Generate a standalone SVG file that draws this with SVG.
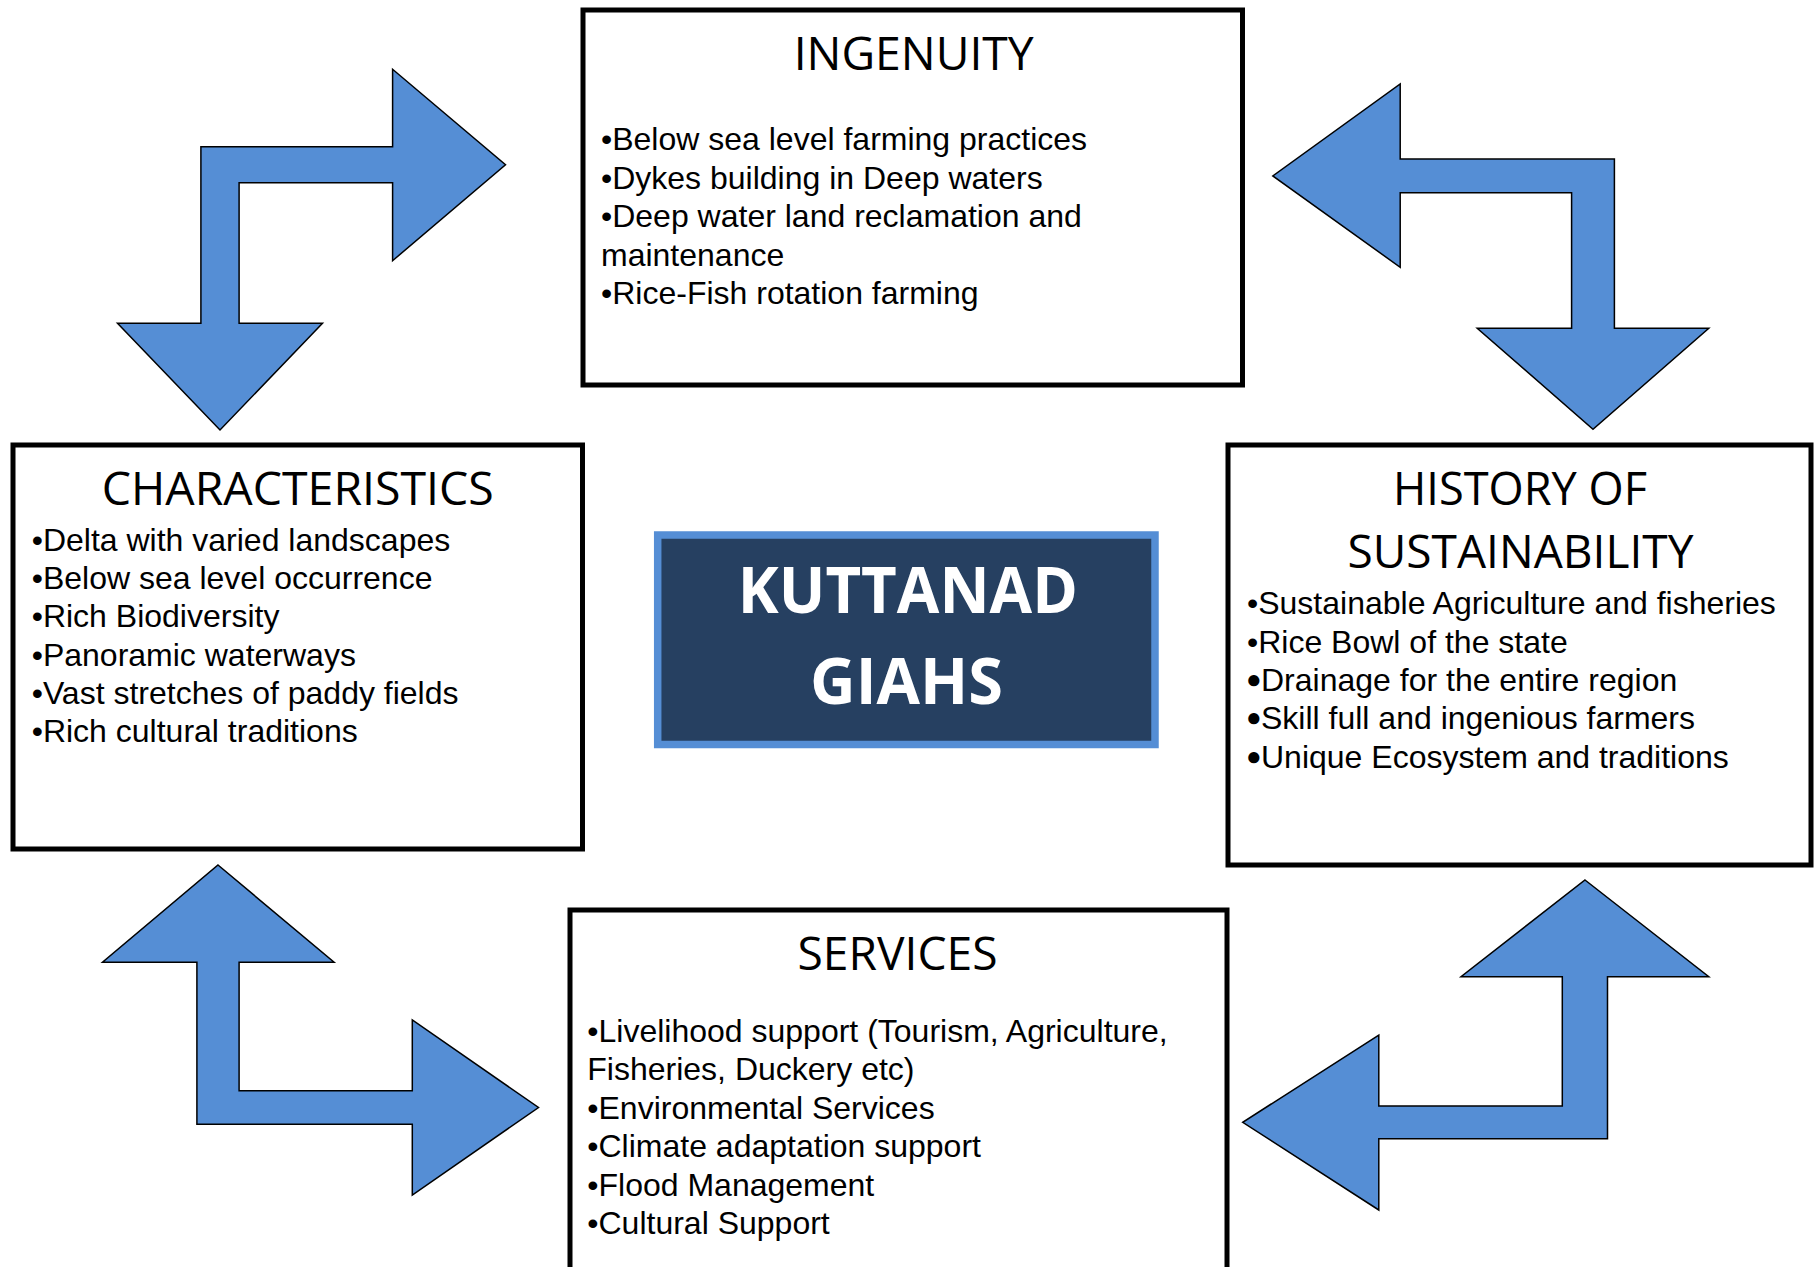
<svg xmlns="http://www.w3.org/2000/svg" width="1816" height="1267" viewBox="0 0 1816 1267">
<style>
.box{fill:#ffffff;stroke:#000000;stroke-width:5}
.title{font-family:"Open Sans","Noto Sans",sans-serif;font-size:45px;fill:#000000;text-anchor:middle}
.body{font-family:"Liberation Sans",Arial,sans-serif;font-size:32px;fill:#000000}
.dot{font-family:"Liberation Sans",Arial,sans-serif;font-size:26px;fill:#000000}
.arrow{fill:#558ED5;stroke:#000000;stroke-width:1.5;stroke-linejoin:miter}
.center{fill:#264061;stroke:#558ED5;stroke-width:7.5}
.ctext{font-family:"Open Sans","Noto Sans",sans-serif;font-weight:bold;font-size:65px;fill:#ffffff;text-anchor:middle}
</style>
<rect width="1816" height="1267" fill="#ffffff"/>
<g id="connectors">
<polygon class="arrow" points="200.9,146.7 392.6,146.7 392.6,69.3 505.5,164.7 392.6,260.7 392.6,182.7 239.1,182.7 239.1,323.3 322.5,323.3 220,430 117.5,323.3 200.9,323.3"/>
<polygon class="arrow" points="1614.4,159 1400.2,159 1400.2,84 1272.8,175.9 1400.2,267.3 1400.2,192.7 1571.6,192.7 1571.6,328.3 1477.2,328.3 1593,429.3 1708.8,328.3 1614.4,328.3"/>
<polygon class="arrow" points="218,865 334.1,962.3 239.1,962.3 239.1,1090.7 412.3,1090.7 412.3,1020 538.5,1107.5 412.3,1195 412.3,1124.3 196.9,1124.3 196.9,962.3 102.5,962.3"/>
<polygon class="arrow" points="1585,880 1708.8,976.7 1607.5,976.7 1607.5,1138.7 1378.8,1138.7 1378.8,1210 1242.7,1122.3 1378.8,1035 1378.8,1106 1562.3,1106 1562.3,976.7 1461,976.7"/>
</g>
<g id="ingenuity">
<rect class="box" x="583" y="10" width="659.5" height="375"/>
<text class="title" x="913.7" y="70" textLength="240" lengthAdjust="spacingAndGlyphs">INGENUITY</text>
<text class="body" x="601" y="150.3">•Below sea level farming practices</text>
<text class="body" x="601" y="188.7">•Dykes building in Deep waters</text>
<text class="body" x="601" y="227.1">•Deep water land reclamation and</text>
<text class="body" x="601" y="265.5">maintenance</text>
<text class="body" x="601" y="303.9">•Rice-Fish rotation farming</text>
</g>
<g id="characteristics">
<rect class="box" x="13" y="445" width="569.5" height="404"/>
<text class="title" x="297.8" y="505" textLength="392" lengthAdjust="spacingAndGlyphs">CHARACTERISTICS</text>
<text class="body" x="31.7" y="550.5">•Delta with varied landscapes</text>
<text class="body" x="31.7" y="588.9">•Below sea level occurrence</text>
<text class="body" x="31.7" y="627.2">•Rich Biodiversity</text>
<text class="body" x="31.7" y="665.5">•Panoramic waterways</text>
<text class="body" x="31.7" y="703.9">•Vast stretches of paddy fields</text>
<text class="body" x="31.7" y="742.2">•Rich cultural traditions</text>
</g>
<g id="history">
<rect class="box" x="1228" y="445" width="583" height="420"/>
<text class="title" x="1520" y="505" textLength="254" lengthAdjust="spacingAndGlyphs">HISTORY OF</text>
<text class="title" x="1520.5" y="567.7" textLength="346" lengthAdjust="spacingAndGlyphs">SUSTAINABILITY</text>
<text class="body" x="1247" y="614.4">•Sustainable Agriculture and fisheries</text>
<text class="body" x="1247" y="652.7">•Rice Bowl of the state</text>
<text class="dot" x="1246" y="688">●</text>
<text class="body" x="1261" y="691">Drainage for the entire region</text>
<text class="dot" x="1246" y="726.4">●</text>
<text class="body" x="1261" y="729.4">Skill full and ingenious farmers</text>
<text class="dot" x="1246" y="764.7">●</text>
<text class="body" x="1261" y="767.7">Unique Ecosystem and traditions</text>
</g>
<g id="services">
<rect class="box" x="570" y="910" width="657" height="380"/>
<text class="title" x="897.5" y="970" textLength="200" lengthAdjust="spacingAndGlyphs">SERVICES</text>
<text class="body" x="587.3" y="1041.7">•Livelihood support (Tourism, Agriculture,</text>
<text class="body" x="587.3" y="1080.2">Fisheries, Duckery etc)</text>
<text class="body" x="587.3" y="1118.7">•Environmental Services</text>
<text class="body" x="587.3" y="1157.2">•Climate adaptation support</text>
<text class="body" x="587.3" y="1195.7">•Flood Management</text>
<text class="body" x="587.3" y="1234.2">•Cultural Support</text>
</g>
<g id="kuttanad">
<rect class="center" x="657.7" y="535" width="497.3" height="209.5"/>
<text class="ctext" x="907.8" y="613.3" textLength="340" lengthAdjust="spacingAndGlyphs">KUTTANAD</text>
<text class="ctext" x="906.5" y="704" textLength="193" lengthAdjust="spacingAndGlyphs">GIAHS</text>
</g>
</svg>
